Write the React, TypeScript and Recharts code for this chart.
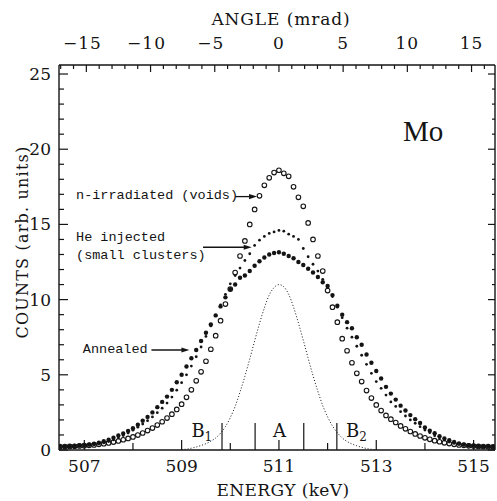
import React from 'react';
import { ComposedChart, Line, XAxis, YAxis, ReferenceLine, ReferenceArea, ReferenceDot } from 'recharts';

// ---------------- data ----------------
const energies = [
  506.5, 506.6, 506.7, 506.8, 506.9, 507.0, 507.1, 507.2, 507.3, 507.4,
  507.5, 507.6, 507.7, 507.8, 507.9, 508.0, 508.1, 508.2, 508.3, 508.4,
  508.5, 508.6, 508.7, 508.8, 508.9, 509.0, 509.1, 509.2, 509.3, 509.4,
  509.5, 509.6, 509.7, 509.8, 509.9, 510.0, 510.1, 510.2, 510.3, 510.4,
  510.5, 510.6, 510.7, 510.8, 510.9, 511.0, 511.1, 511.2, 511.3, 511.4,
  511.5, 511.6, 511.7, 511.8, 511.9, 512.0, 512.1, 512.2, 512.3, 512.4,
  512.5, 512.6, 512.7, 512.8, 512.9, 513.0, 513.1, 513.2, 513.3, 513.4,
  513.5, 513.6, 513.7, 513.8, 513.9, 514.0, 514.1, 514.2, 514.3, 514.4,
  514.5, 514.6, 514.7, 514.8, 514.9, 515.0, 515.1, 515.2, 515.3, 515.4,
];

// n-irradiated (voids) — open circles
const voids = [
  0.22, 0.23, 0.24, 0.25, 0.27, 0.29, 0.31, 0.34, 0.38, 0.42,
  0.47, 0.53, 0.6, 0.68, 0.77, 0.87, 0.99, 1.13, 1.29, 1.46,
  1.66, 1.88, 2.12, 2.38, 2.7, 3.05, 3.5, 4.0, 4.6, 5.2,
  5.9, 6.7, 7.6, 8.6, 9.7, 10.7, 11.8, 12.9, 13.9, 15.0,
  16.0, 16.9, 17.6, 18.1, 18.45, 18.6, 18.4, 18.2, 17.5, 16.8,
  16.2, 15.1, 14.0, 12.9, 11.9, 10.6, 9.5, 8.5, 7.4, 6.6,
  5.8, 5.1, 4.55, 3.95, 3.45, 3.0, 2.62, 2.3, 2.05, 1.83,
  1.6, 1.41, 1.23, 1.07, 0.93, 0.81, 0.71, 0.62, 0.55, 0.48,
  0.43, 0.38, 0.34, 0.31, 0.28, 0.26, 0.24, 0.23, 0.22, 0.21,
];

// He injected (small clusters) — small filled dots
const heInjected = [
  0.2, 0.21, 0.22, 0.24, 0.26, 0.28, 0.31, 0.35, 0.4, 0.47,
  0.56, 0.67, 0.8, 0.96, 1.13, 1.32, 1.52, 1.73, 1.95, 2.2,
  2.48, 2.78, 3.12, 3.52, 3.98, 4.48, 5.0, 5.58, 6.2, 6.85,
  7.55, 8.25, 8.95, 9.65, 10.35, 11.05, 11.6, 12.1, 12.6, 13.05,
  13.6, 13.95, 14.2, 14.4, 14.5, 14.6, 14.55, 14.35, 14.2, 14.0,
  13.4, 12.85, 12.35, 11.9, 11.35, 10.8, 10.2, 9.5, 8.8, 8.1,
  7.5, 6.9, 6.3, 5.7, 5.1, 4.55, 4.1, 3.65, 3.2, 2.9,
  2.55, 2.26, 2.0, 1.78, 1.55, 1.33, 1.15, 0.95, 0.79, 0.66,
  0.53, 0.44, 0.37, 0.32, 0.28, 0.26, 0.24, 0.22, 0.21, 0.2,
];

// Annealed — large filled dots
const annealed = [
  0.22, 0.23, 0.25, 0.27, 0.3, 0.33, 0.37, 0.42, 0.49, 0.58,
  0.68, 0.82, 0.96, 1.1, 1.27, 1.45, 1.68, 1.95, 2.2, 2.5,
  2.85, 3.2, 3.55, 4.0, 4.5, 5.0, 5.55, 6.1, 6.65, 7.25,
  7.8, 8.35, 8.95, 9.55, 10.15, 10.7, 11.0, 11.45, 11.6, 11.9,
  12.25, 12.55, 12.8, 13.0, 13.1, 13.15, 13.05, 12.9, 12.75, 12.5,
  12.3, 12.05, 11.8, 11.5, 11.15, 10.9, 10.3, 9.6, 9.0, 8.5,
  8.1, 7.5, 7.0, 6.35, 5.8, 5.25, 4.75, 4.2, 3.75, 3.35,
  2.95, 2.63, 2.32, 2.05, 1.8, 1.5, 1.28, 1.12, 0.92, 0.77,
  0.65, 0.54, 0.44, 0.37, 0.32, 0.29, 0.26, 0.24, 0.23, 0.22,
];

// dotted curve (resolution)
const N = null;
const resolution = [
  N, N, N, N, N, N, N, N, N, N,
  N, N, N, N, N, N, N, N, N, N,
  N, N, N, N, N, 0.02, 0.06, 0.12, 0.2, 0.3,
  0.42, 0.58, 0.8, 1.12, 1.55, 2.15, 2.9, 3.85, 4.9, 6.05,
  7.25, 8.4, 9.45, 10.3, 10.8, 11.0, 10.85, 10.35, 9.5, 8.45,
  7.3, 6.1, 4.95, 3.9, 2.95, 2.2, 1.6, 1.15, 0.8, 0.57,
  0.4, 0.28, 0.18, 0.1, 0.05, 0.02, N, N, N, N,
  N, N, N, N, N, N, N, N, N, N,
  N, N, N, N, N, N, N, N, N, N,
];

const energyTicks = [507, 508, 509, 510, 511, 512, 513, 514, 515];
const energyLabels = [507, 509, 511, 513, 515];
const angleTicks = [-17, -16, -15, -14, -13, -12, -11, -10, -9, -8, -7, -6, -5, -4, -3, -2, -1, 0, 1, 2, 3, 4, 5, 6, 7, 8, 9, 10, 11, 12, 13, 14, 15, 16];
const angleLabels = [-15, -10, -5, 0, 5, 10, 15];
const countTicks = [0, 1, 2, 3, 4, 5, 6, 7, 8, 9, 10, 11, 12, 13, 14, 15, 16, 17, 18, 19, 20, 21, 22, 23, 24, 25];
const countLabels = [0, 5, 10, 15, 20, 25];

const regionBounds = [509.83, 510.51, 511.51, 512.19];
const regionNames = ['B', 'A', 'B'];
const regionSubs = ['1', '', '2'];
const regionStarts = [509.0, 510.51, 512.19];
const regionEnds = [509.83, 511.51, 513.0];
const regionMarkHeight = 1.8;

const annotationTexts = [['n-irradiated (voids)'], ['He injected', '(small clusters)'], ['Annealed']];
const annotationTextE = [506.83, 506.83, 506.97];
const annotationTextV = [16.7, 13.9, 6.45];
const arrowTailE = [510.1, 509.44, 508.38];
const arrowTipE = [510.55, 510.44, 509.16];
const arrowV = [16.85, 13.48, 6.65];

const energyDomain: [number, number] = [506.48, 515.44];
const mradPerKeV = 3.79;
const toAngle = (e: number) => (e - 511) * mradPerKeV;
const angleDomain: [number, number] = [toAngle(energyDomain[0]), toAngle(energyDomain[1])];
const countDomain: [number, number] = [0, 25.6];

const rows = energies.map((e, i) => ({
  e,
  ang: toAngle(e),
  voids: voids[i],
  he: heInjected[i],
  ann: annealed[i],
  res: resolution[i],
}));

// ---------------- styling ----------------
const INK = '#141414';
const SERIF = '"DejaVu Serif", "Liberation Serif", serif';
const MONO = '"Liberation Mono", "DejaVu Sans Mono", monospace';

const BottomTick = (p: any) => {
  const v = p.payload.value;
  const major = energyLabels.includes(v);
  return (
    <g>
      <line x1={p.x} x2={p.x} y1={p.y} y2={p.y - (major ? 10 : 7)} stroke={INK} strokeWidth={1.2} />
      {major && (
        <text x={p.x} y={p.y + 22} textAnchor="middle" fontFamily={SERIF} fontSize={17} fill={INK}>
          {v}
        </text>
      )}
    </g>
  );
};

const TopTick = (p: any) => {
  const v = p.payload.value;
  const major = angleLabels.includes(v);
  const label = (v < 0 ? '\u2212' : '') + Math.abs(v);
  return (
    <g>
      <line x1={p.x} x2={p.x} y1={p.y} y2={p.y + (major ? 7 : 4)} stroke={INK} strokeWidth={1.2} />
      {major && (
        <text x={p.x - (v < 0 ? 4 : 0)} y={p.y - 16} textAnchor="middle" fontFamily={SERIF} fontSize={17} fill={INK} letterSpacing={1}>
          {label}
        </text>
      )}
    </g>
  );
};

const LeftTick = (p: any) => {
  const v = p.payload.value;
  const major = countLabels.includes(v);
  return (
    <g>
      <line x1={p.x} x2={p.x + (major ? 9 : 5)} y1={p.y} y2={p.y} stroke={INK} strokeWidth={1.2} />
      {major && (
        <text x={p.x - 8} y={p.y + 6} textAnchor="end" fontFamily={SERIF} fontSize={17} fill={INK}>
          {v}
        </text>
      )}
    </g>
  );
};

const RightTick = (p: any) => {
  const v = p.payload.value;
  const major = countLabels.includes(v);
  return <line x1={p.x} x2={p.x - (major ? 7 : 3)} y1={p.y} y2={p.y} stroke={INK} strokeWidth={1.2} />;
};

const OpenCircle = (p: any) =>
  p.cy == null ? <g key={p.index} /> : (
    <circle key={p.index} cx={p.cx} cy={p.cy} r={2.3} fill="none" stroke={INK} strokeWidth={1.1} />
  );
const SmallDot = (p: any) =>
  p.cy == null ? <g key={p.index} /> : <circle key={p.index} cx={p.cx} cy={p.cy} r={1.4} fill={INK} />;
const BigDot = (p: any) =>
  p.cy == null ? <g key={p.index} /> : <circle key={p.index} cx={p.cx} cy={p.cy} r={2.2} fill={INK} />;

const ArrowShape = (p: any) => {
  const { x1, y1, x2, y2 } = p;
  return (
    <g>
      <line x1={x1} y1={y1} x2={x2 - 5} y2={y2} stroke={INK} strokeWidth={1.3} />
      <polygon points={`${x2},${y2} ${x2 - 8},${y2 - 2.6} ${x2 - 8},${y2 + 2.6}`} fill={INK} />
    </g>
  );
};

const makeTextShape = (lines: string[]) => (p: any) => (
  <text x={p.cx} y={p.cy} fontFamily={MONO} fontSize={13.5} fill={INK}>
    {lines.map((t, i) => (
      <tspan key={i} x={p.cx} dy={i === 0 ? 0 : 18}>
        {t}
      </tspan>
    ))}
  </text>
);

const makeRegionLabel = (name: string, sub: string) => (p: any) => {
  const vb = p.viewBox || {};
  const cx = vb.x + vb.width / 2;
  const base = vb.y + vb.height - 13;
  return (
    <text x={cx} y={base} textAnchor="middle" fontFamily={SERIF} fontSize={18} fill={INK}>
      {name}
      {sub && (
        <tspan fontSize={12} dy={4}>
          {sub}
        </tspan>
      )}
    </text>
  );
};

export default function App() {
  return (
    <div style={{ position: 'absolute', left: 0, top: 0, width: 497, height: 501, background: '#fff' }}>
      <ComposedChart
        width={497}
        height={501}
        data={rows}
        margin={{ top: 35, right: 0, bottom: 21, left: 19 }}
      >
        <XAxis
          xAxisId="bottom"
          dataKey="e"
          type="number"
          domain={energyDomain}
          allowDataOverflow
          ticks={energyTicks}
          interval={0}
          tick={BottomTick}
          tickLine={false}
          tickSize={0}
          tickMargin={0}
          axisLine={{ stroke: INK, strokeWidth: 1.4 }}
          height={30}
        />
        <XAxis
          xAxisId="top"
          dataKey="ang"
          orientation="top"
          type="number"
          domain={angleDomain}
          allowDataOverflow
          ticks={angleTicks}
          interval={0}
          tick={TopTick}
          tickLine={false}
          tickSize={0}
          tickMargin={0}
          axisLine={{ stroke: INK, strokeWidth: 1.4 }}
          height={30}
        />
        <YAxis
          yAxisId="left"
          type="number"
          domain={countDomain}
          allowDataOverflow
          ticks={countTicks}
          interval={0}
          tick={LeftTick}
          tickLine={false}
          tickSize={0}
          tickMargin={0}
          axisLine={{ stroke: INK, strokeWidth: 1.4 }}
          width={40}
        />
        <YAxis
          yAxisId="right"
          orientation="right"
          type="number"
          domain={countDomain}
          allowDataOverflow
          ticks={countTicks}
          interval={0}
          tick={RightTick}
          tickLine={false}
          tickSize={0}
          tickMargin={0}
          axisLine={{ stroke: INK, strokeWidth: 1.4 }}
          width={2}
        />

        {/* invisible series that binds the angle (top) and right axes */}
        <Line
          xAxisId="top"
          yAxisId="right"
          dataKey="voids"
          stroke="none"
          dot={false}
          activeDot={false}
          isAnimationActive={false}
        />

        {regionNames.map((n, i) => (
          <ReferenceArea
            key={'ra' + i}
            xAxisId="bottom"
            yAxisId="left"
            x1={regionStarts[i]}
            x2={regionEnds[i]}
            y1={0}
            y2={regionMarkHeight}
            fill="none"
            fillOpacity={0}
            stroke="none"
            label={makeRegionLabel(n, regionSubs[i])}
          />
        ))}
        {regionBounds.map((b, i) => (
          <ReferenceLine
            key={'rb' + i}
            xAxisId="bottom"
            yAxisId="left"
            segment={[
              { x: b, y: 0 },
              { x: b, y: regionMarkHeight },
            ]}
            stroke={INK}
            strokeWidth={1.2}
          />
        ))}

        <Line
          xAxisId="bottom"
          yAxisId="left"
          dataKey="res"
          type="monotone"
          stroke={INK}
          strokeWidth={1}
          strokeDasharray="1 2"
          dot={false}
          activeDot={false}
          connectNulls={false}
          isAnimationActive={false}
        />
        <Line
          xAxisId="bottom"
          yAxisId="left"
          dataKey="ann"
          stroke="none"
          dot={BigDot}
          activeDot={false}
          isAnimationActive={false}
        />
        <Line
          xAxisId="bottom"
          yAxisId="left"
          dataKey="he"
          stroke="none"
          dot={SmallDot}
          activeDot={false}
          isAnimationActive={false}
        />
        <Line
          xAxisId="bottom"
          yAxisId="left"
          dataKey="voids"
          stroke="none"
          dot={OpenCircle}
          activeDot={false}
          isAnimationActive={false}
        />

        {annotationTexts.map((lines, i) => (
          <ReferenceLine
            key={'ar' + i}
            xAxisId="bottom"
            yAxisId="left"
            segment={[
              { x: arrowTailE[i], y: arrowV[i] },
              { x: arrowTipE[i], y: arrowV[i] },
            ]}
            shape={ArrowShape}
          />
        ))}
        {annotationTexts.map((lines, i) => (
          <ReferenceDot
            key={'at' + i}
            xAxisId="bottom"
            yAxisId="left"
            x={annotationTextE[i]}
            y={annotationTextV[i]}
            r={0}
            shape={makeTextShape(lines)}
          />
        ))}
      </ComposedChart>
      <svg
        width={497}
        height={501}
        style={{ position: 'absolute', left: 0, top: 0, pointerEvents: 'none' }}
      >
        <text x={281} y={25} textAnchor="middle" fontFamily={SERIF} fontSize={17} letterSpacing={0.9} fill={INK}>
          ANGLE (mrad)
        </text>
        <text x={283} y={496} textAnchor="middle" fontFamily={SERIF} fontSize={17} letterSpacing={0.4} fill={INK}>
          ENERGY (keV)
        </text>
        <text
          transform="translate(28,242) rotate(-90)"
          textAnchor="middle"
          fontFamily={SERIF}
          fontSize={16}
          letterSpacing={1.2}
          fill={INK}
        >
          COUNTS (arb. units)
        </text>
        <text x={403} y={141} fontFamily={'"Liberation Serif", "DejaVu Serif", serif'} fontSize={29} fill={INK}>
          Mo
        </text>
      </svg>
    </div>
  );
}
